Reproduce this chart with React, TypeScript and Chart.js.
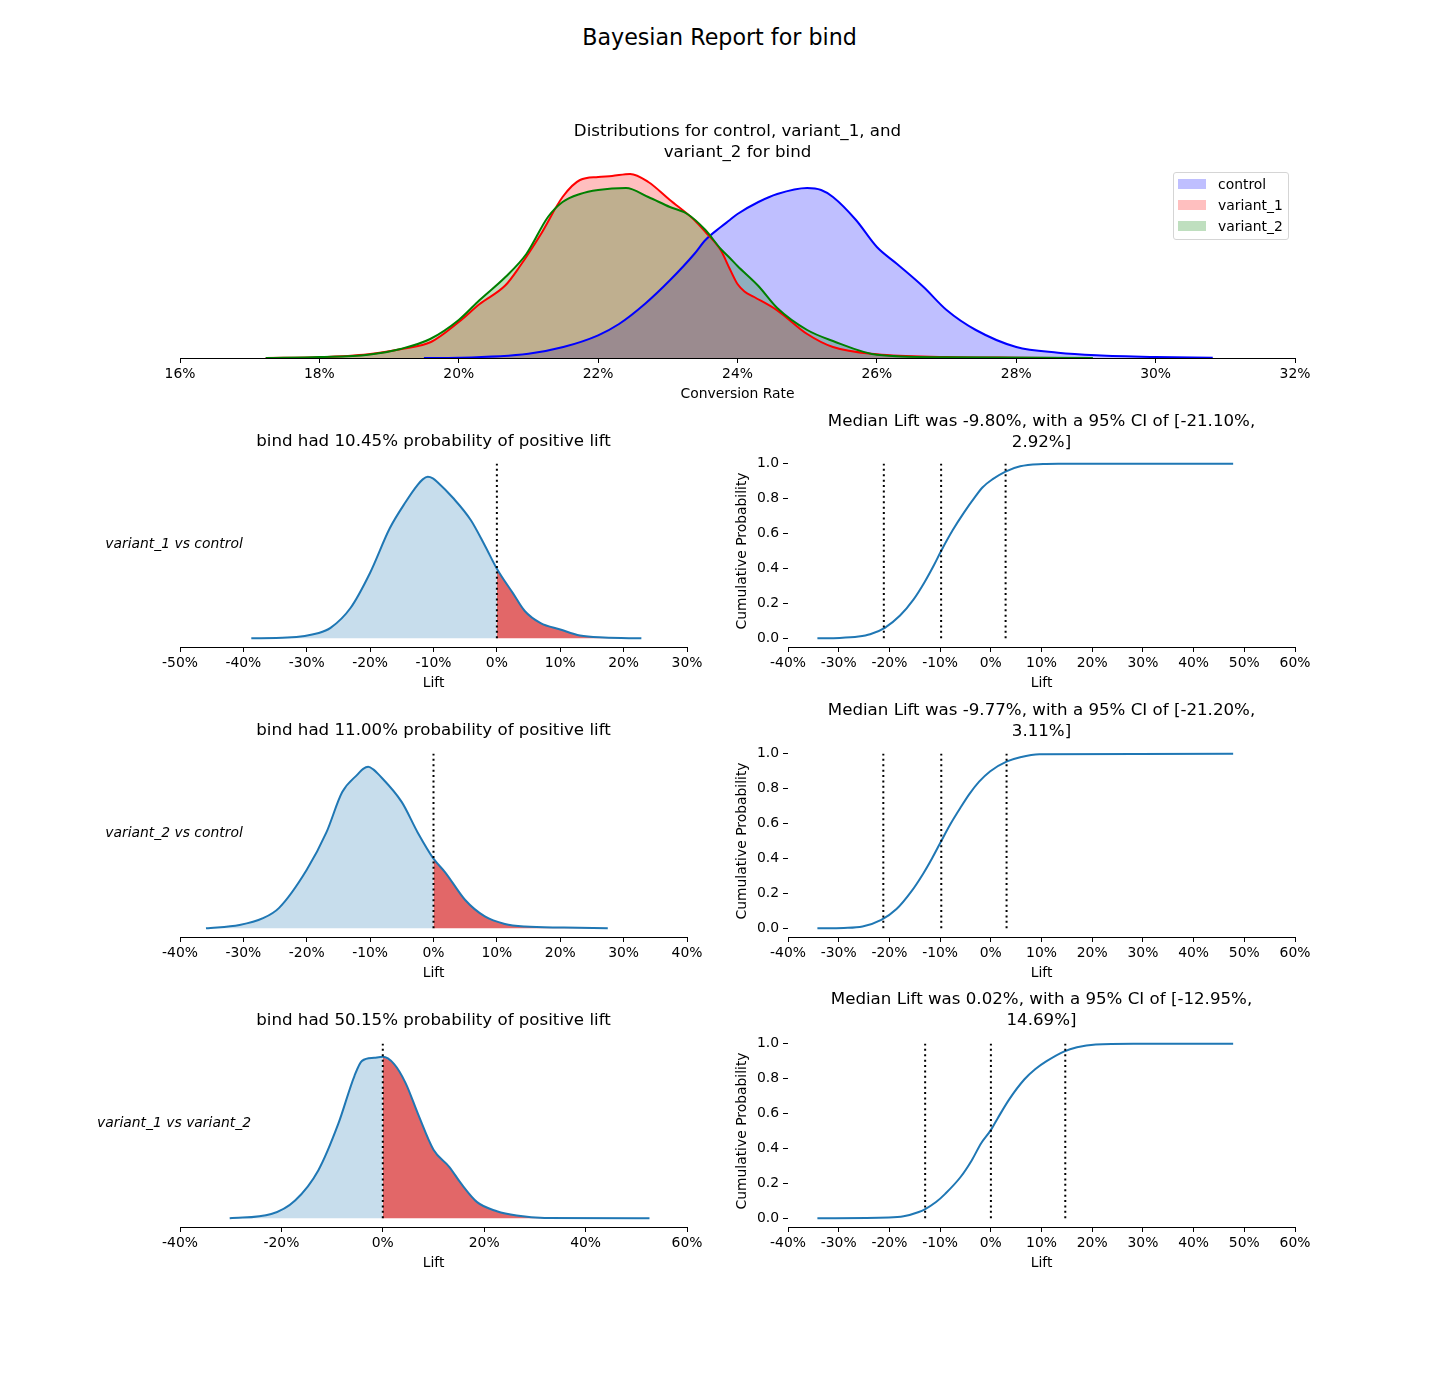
import React, { useEffect, useRef } from 'react';
import { Chart, registerables } from 'chart.js';

Chart.register(...registerables);

// ---------- DATA ----------
const seriesNames = ['control', 'variant_1', 'variant_2'];

// Conversion rate (%) vs relative density
const controlX = [19.5, 20.0, 21.0, 21.5, 22.0, 22.3, 22.67, 23.03, 23.38, 23.54, 23.76, 23.89, 24.0, 24.3, 24.57, 25.0, 25.2, 25.37, 25.7, 26.0, 26.29, 26.67, 27.0, 27.42, 28.0, 28.6, 29.15, 30.0, 30.82];
const controlY = [0, 0.3, 4.3, 11, 22.7, 34, 54, 77.7, 104, 118, 131, 138, 144, 156, 164, 170, 168, 161, 138, 111, 94, 71, 48, 28, 11, 5.3, 2.7, 1, 0.3];

const variant1X = [17.23, 18.0, 18.7, 19.2, 19.6, 20.0, 20.3, 20.67, 20.87, 21.18, 21.49, 21.74, 22.0, 22.2, 22.46, 22.72, 23.03, 23.38, 23.54, 23.76, 23.89, 24.0, 24.1, 24.24, 24.57, 25.0, 25.37, 26.0, 27.0, 28.0, 29.0];
const variant1Y = [0, 0.7, 3.7, 9.3, 16, 36, 54, 72.7, 91, 124, 161, 178, 181, 182, 184, 176, 158, 138, 126, 107.7, 89, 74, 66.5, 61, 47.7, 24, 11, 3.7, 1, 0.3, 0];

const variant2X = [17.23, 18.0, 18.7, 19.18, 19.59, 20.0, 20.3, 20.67, 20.97, 21.28, 21.49, 21.74, 22.0, 22.4, 22.72, 23.03, 23.28, 23.54, 23.76, 23.89, 24.0, 24.3, 24.57, 25.0, 25.37, 26.0, 27.0, 29.1];
const variant2Y = [0, 1, 3.3, 9.3, 19, 38, 58, 81, 104, 141, 156, 164, 168, 170, 161, 151, 144, 128, 109, 100, 92, 72, 50, 28, 17, 3.3, 0.7, 0];

// Lift KDEs (lift % vs relative density)
const lift1X = [-38.75, -33.1, -28.1, -26.25, -23.1, -20, -16.9, -14.4, -12.5, -11.7, -10.9, -10.1, -9.4, -6.9, -4.1, -1.9, 0, 2.5, 4.4, 6.9, 10, 13.1, 16.9, 22.8];
const lift1Y = [0, 0.7, 5.3, 10.3, 30, 65, 109, 135, 152, 157.5, 160, 158.5, 155, 139, 117, 92, 69, 45, 27, 15, 8.7, 2.7, 0.7, 0];

const lift2X = [-35.9, -30.6, -26.9, -24.4, -20, -16.9, -14.4, -11.9, -11.1, -10.3, -9.5, -8.75, -5, -2.5, 0, 1.9, 5, 8.1, 11.25, 14.4, 20.6, 27.5];
const lift2Y = [0, 3.3, 10, 20, 58, 95, 135, 153, 158, 160, 157.5, 153, 125, 95, 69, 55, 28, 11.7, 4.3, 1.7, 0.7, 0];

const lift3X = [-30.2, -22, -17.3, -12.7, -8.75, -5.6, -4.1, -1.7, 0, 2.2, 4.5, 6.9, 10, 13.1, 15.5, 18.6, 22.5, 26.4, 31.9, 52.6];
const lift3Y = [0, 4.3, 17.7, 47.7, 94, 141, 156, 159, 160, 153, 134, 104, 68, 51, 34, 16, 7, 2.7, 0.3, 0];

const zeroMarkerHeight = 173;

// Cumulative distributions of lift
const cdf1X = [-34.2, -29.8, -26.1, -23.8, -20.9, -17.9, -15.3, -13.1, -11.2, -9.8, -7.5, -5.3, -3.1, -1.6, 0.3, 2.9, 5.8, 10.3, 13.3, 47.8];
const cdf1Y = [0, 0.002, 0.01, 0.023, 0.06, 0.13, 0.22, 0.32, 0.42, 0.5, 0.62, 0.72, 0.81, 0.865, 0.91, 0.955, 0.985, 0.998, 1.0, 1.0];

const cdf2X = [-34.2, -29, -25.3, -21.6, -18.6, -15.7, -13.4, -11.6, -9.77, -7.9, -6, -4.2, -2.3, -0.1, 3.2, 5.8, 9.6, 47.8];
const cdf2Y = [0, 0.002, 0.01, 0.048, 0.11, 0.21, 0.31, 0.4, 0.5, 0.6, 0.69, 0.77, 0.84, 0.9, 0.956, 0.98, 0.997, 1.0];

const cdf3X = [-34.2, -20.1, -17.2, -14.2, -13.1, -10.8, -9, -6, -3.8, -1.9, 0, 1.4, 3.6, 6.6, 8.8, 11, 14.4, 17, 20.7, 28.1, 47.8];
const cdf3Y = [0, 0.004, 0.011, 0.036, 0.05, 0.093, 0.14, 0.235, 0.33, 0.43, 0.505, 0.575, 0.68, 0.795, 0.855, 0.9, 0.955, 0.98, 0.996, 1.0, 1.0];

// [lower CI, median, upper CI]
const ci1 = [-21.10, -9.80, 2.92];
const ci2 = [-21.20, -9.77, 3.11];
const ci3 = [-12.95, 0.02, 14.69];

const probPositive = [10.45, 11.00, 50.15];
const comparisonLabels = ['variant_1 vs control', 'variant_2 vs control', 'variant_1 vs variant_2'];

const cdfYTicks = [0, 0.2, 0.4, 0.6, 0.8, 1.0];

// ---------- STYLE / LAYOUT ----------
const FONT = 'DejaVu Sans';
const TICK_FONT = { family: FONT, size: 13.9 };
const ROW_TOPS = [455, 745, 1035];
const PLOT_H = 192;
const X_AXIS_H = 45;
const PAD_T = 15;

const pts = (xs: number[], ys: number[]) => xs.map((x, i) => ({ x, y: ys[i] }));

function xScale(min: number, max: number, step: number, title: string) {
  return {
    type: 'linear',
    min,
    max,
    ticks: {
      stepSize: step,
      autoSkip: false,
      maxRotation: 0,
      minRotation: 0,
      color: '#000',
      font: TICK_FONT,
      padding: 3,
      callback: (v: any) => `${Math.round(Number(v))}%`,
    },
    grid: { display: true, drawOnChartArea: false, drawTicks: true, tickLength: 5, tickColor: '#000', tickWidth: 1 },
    border: { display: true, color: '#000', width: 1 },
    title: { display: true, text: title, color: '#000', font: TICK_FONT, padding: 0 },
    afterFit: (s: any) => {
      s.height = X_AXIS_H;
    },
  };
}

const baseOptions = (padding: any) => ({
  responsive: false,
  animation: false,
  devicePixelRatio: 1,
  events: [],
  layout: { padding },
  plugins: { legend: { display: false }, tooltip: { enabled: false }, title: { display: false } },
  elements: { point: { radius: 0 } },
});

function lineDs(data: any[], color: string, extra: any = {}) {
  return {
    data,
    borderColor: color,
    borderWidth: 2,
    pointRadius: 0,
    fill: false,
    cubicInterpolationMode: 'monotone',
    ...extra,
  };
}

function ChartCanvas({ left, top, width, height, make }: any) {
  const ref = useRef<HTMLCanvasElement>(null);
  useEffect(() => {
    const chart = new Chart(ref.current as HTMLCanvasElement, make());
    return () => chart.destroy();
  }, []);
  return (
    <canvas
      ref={ref}
      width={width}
      height={height}
      style={{ position: 'absolute', left, top, width, height }}
    />
  );
}

function Txt({ cx, cy, lines, size, lh, italic }: any) {
  return (
    <div
      style={{
        position: 'absolute',
        left: cx - 500,
        width: 1000,
        top: cy - lh / 2,
        textAlign: 'center',
        fontFamily: FONT,
        fontSize: size,
        lineHeight: `${lh}px`,
        fontStyle: italic ? 'oblique' : 'normal',
        color: '#000',
        whiteSpace: 'pre',
      }}
    >
      {lines.join('\n')}
    </div>
  );
}

// ---------- CHART FACTORIES ----------
const distFills = ['rgba(0,0,255,0.25)', 'rgba(255,0,0,0.25)', 'rgba(0,128,0,0.25)'];
const distLines = ['#0000ff', '#ff0000', '#008000'];

function makeTop() {
  const data = [pts(controlX, controlY), pts(variant1X, variant1Y), pts(variant2X, variant2Y)];
  // fills first (bottom), then all outlines on top, like matplotlib's zorder
  const fills = data.map((d, i) =>
    lineDs(d, 'transparent', { label: seriesNames[i] + ' fill', fill: 'origin', backgroundColor: distFills[i], borderWidth: 0, order: 10 - i })
  );
  const lines = data.map((d, i) => lineDs(d, distLines[i], { label: seriesNames[i], order: 5 - i }));
  return {
    type: 'line',
    data: { datasets: [...fills, ...lines] },
    options: {
      ...baseOptions({ left: 25, right: 25, top: PAD_T, bottom: 0 }),
      scales: {
        x: xScale(16, 32, 2, 'Conversion Rate'),
        y: { type: 'linear', display: false, min: 0, max: 195 },
      },
    },
  };
}

function makeLift(xs: number[], ys: number[], min: number, max: number, step: number) {
  const all = pts(xs, ys);
  const neg = all.filter((p) => p.x <= 0);
  const pos = all.filter((p) => p.x >= 0);
  return {
    type: 'line',
    data: {
      datasets: [
        lineDs(neg, 'transparent', { fill: 'origin', backgroundColor: 'rgba(31,119,180,0.25)', borderWidth: 0, order: 5 }),
        lineDs(pos, 'transparent', { fill: 'origin', backgroundColor: 'rgba(214,39,40,0.7)', borderWidth: 0, order: 4 }),
        lineDs(all, '#1f77b4', { order: 2 }),
        lineDs(
          [
            { x: 0, y: 0 },
            { x: 0, y: zeroMarkerHeight },
          ],
          '#000',
          { borderDash: [2, 3.4], cubicInterpolationMode: 'default', tension: 0, order: 1 }
        ),
      ],
    },
    options: {
      ...baseOptions({ left: 25, right: 25, top: PAD_T, bottom: 0 }),
      scales: {
        x: xScale(min, max, step, 'Lift'),
        y: { type: 'linear', display: false, min: -0.05 * zeroMarkerHeight, max: 1.05 * zeroMarkerHeight },
      },
    },
  };
}

function makeCdf(xs: number[], ys: number[], ci: number[]) {
  return {
    type: 'line',
    data: {
      datasets: [
        lineDs(pts(xs, ys), '#1f77b4', { order: 2 }),
        ...ci.map((c) =>
          lineDs(
            [
              { x: c, y: 0 },
              { x: c, y: 1 },
            ],
            '#000',
            { borderDash: [2, 3.4], cubicInterpolationMode: 'default', tension: 0, order: 1 }
          )
        ),
      ],
    },
    options: {
      ...baseOptions({ left: 0, right: 25, top: PAD_T, bottom: 0 }),
      scales: {
        x: xScale(-40, 60, 10, 'Lift'),
        y: {
          type: 'linear',
          min: -0.05,
          max: 1.05,
          afterBuildTicks: (s: any) => {
            s.ticks = cdfYTicks.map((v) => ({ value: v }));
          },
          ticks: { color: '#000', font: TICK_FONT, padding: 4, callback: (v: any) => Number(v).toFixed(1) },
          grid: { display: true, drawOnChartArea: false, drawTicks: true, tickLength: 5, tickColor: '#000', tickWidth: 1 },
          border: { display: false },
          title: { display: true, text: 'Cumulative Probability', color: '#000', font: TICK_FONT, padding: 0 },
          afterFit: (s: any) => {
            s.width = 54;
          },
        },
      },
    },
  };
}

const liftSpecs = [
  { xs: lift1X, ys: lift1Y, min: -50, max: 30, step: 10 },
  { xs: lift2X, ys: lift2Y, min: -40, max: 40, step: 10 },
  { xs: lift3X, ys: lift3Y, min: -40, max: 60, step: 20 },
];
const cdfSpecs = [
  { xs: cdf1X, ys: cdf1Y, ci: ci1 },
  { xs: cdf2X, ys: cdf2Y, ci: ci2 },
  { xs: cdf3X, ys: cdf3Y, ci: ci3 },
];

export default function App() {
  return (
    <div style={{ position: 'absolute', left: 0, top: 0, width: 1439, height: 1378, background: '#fff', overflow: 'hidden' }}>
      <ChartCanvas left={155} top={163 - PAD_T} width={1165} height={195 + PAD_T + X_AXIS_H} make={makeTop} />
      {liftSpecs.map((s, i) => (
        <ChartCanvas
          key={'l' + i}
          left={155}
          top={ROW_TOPS[i] - PAD_T}
          width={557}
          height={PLOT_H + PAD_T + X_AXIS_H}
          make={() => makeLift(s.xs, s.ys, s.min, s.max, s.step)}
        />
      ))}
      {cdfSpecs.map((s, i) => (
        <ChartCanvas
          key={'c' + i}
          left={734}
          top={ROW_TOPS[i] - PAD_T}
          width={586}
          height={PLOT_H + PAD_T + X_AXIS_H}
          make={() => makeCdf(s.xs, s.ys, s.ci)}
        />
      ))}

      <Txt cx={719.5} cy={36.5} lines={['Bayesian Report for bind']} size={22.2} lh={26} />
      <Txt cx={737.5} cy={130} lines={['Distributions for control, variant_1, and', 'variant_2 for bind']} size={16.67} lh={21} />

      {probPositive.map((p, i) => (
        <Txt key={'pt' + i} cx={433.5} cy={440 + i * 289.5} lines={[`bind had ${p.toFixed(2)}% probability of positive lift`]} size={16.67} lh={21} />
      ))}
      {cdfSpecs.map((s, i) => (
        <Txt
          key={'ct' + i}
          cx={1041.5}
          cy={420.2 + i * 289.3}
          lines={[`Median Lift was ${s.ci[1].toFixed(2)}%, with a 95% CI of [${s.ci[0].toFixed(2)}%,`, `${s.ci[2].toFixed(2)}%]`]}
          size={16.67}
          lh={21}
        />
      ))}
      {comparisonLabels.map((t, i) => (
        <Txt key={'rl' + i} cx={174} cy={543 + i * 289.5} lines={[t]} size={13.9} lh={17} italic />
      ))}

      <div
        style={{
          position: 'absolute',
          left: 1173,
          top: 172,
          width: 116,
          height: 68,
          boxSizing: 'border-box',
          border: '1px solid #d5d5d5',
          borderRadius: 3,
          background: 'rgba(255,255,255,0.8)',
        }}
      >
        {seriesNames.map((n, i) => (
          <React.Fragment key={n}>
            <div style={{ position: 'absolute', left: 4, top: 6 + i * 21, width: 28, height: 10, background: distFills[i] }} />
            <div
              style={{
                position: 'absolute',
                left: 44,
                top: 3 + i * 21,
                fontFamily: FONT,
                fontSize: 13.9,
                lineHeight: '17px',
                color: '#000',
                whiteSpace: 'pre',
              }}
            >
              {n}
            </div>
          </React.Fragment>
        ))}
      </div>
    </div>
  );
}
